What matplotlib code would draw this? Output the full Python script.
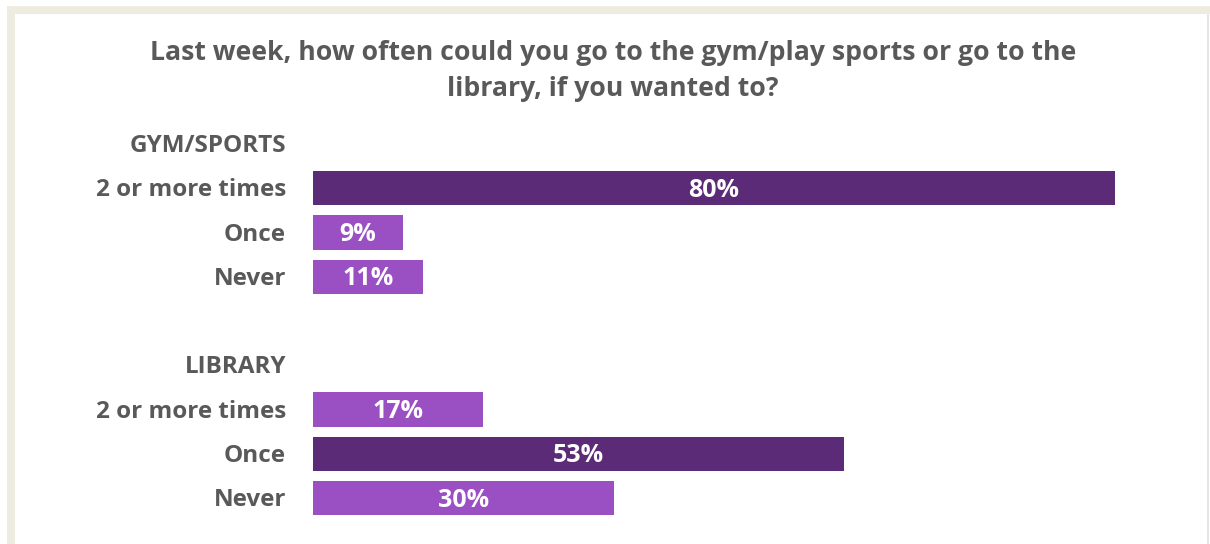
import matplotlib
matplotlib.use('Agg')
import matplotlib.pyplot as plt
from matplotlib.patches import Rectangle

# chart data
title = 'Last week, how often could you go to the gym/play sports or go to the\nlibrary, if you wanted to?'
groups = ['GYM/SPORTS', 'LIBRARY']
categories = ['2 or more times', 'Once', 'Never']
gym_values = [80, 9, 11]
library_values = [17, 53, 30]

DARK = '#5C2B78'
LIGHT = '#9A50C3'
TEXT = '#595959'
FONT = ['Open Sans', 'DejaVu Sans']

W, H = 1210, 544
fig = plt.figure(figsize=(W / 100, H / 100), dpi=100)
fig.patch.set_facecolor('white')

# beige frame (left and top), thin grey line on the right
fig.patches.append(Rectangle((7 / W, 0), 8 / W, 1 - 6 / H, transform=fig.transFigure,
                             facecolor='#EEEBE0', edgecolor='none'))
fig.patches.append(Rectangle((7 / W, 1 - 14 / H), 1 - 7 / W, 8 / H, transform=fig.transFigure,
                             facecolor='#EEEBE0', edgecolor='none'))
fig.patches.append(Rectangle((1207 / W, 0), 1.5 / W, 1 - 14 / H, transform=fig.transFigure,
                             facecolor='#E4E4E4', edgecolor='none'))

fig.text(613 / W, 1 - 71 / H, title, ha='center', va='center', fontsize=19.2,
         fontweight='bold', color=TEXT, family=FONT, linespacing=1.45)

# axes: slot k sits at pixel 144 + 44.3*k
left, right = 313, 1115
top_px, bot_px = 144 - 22.15, 498 + 22.15
ax = fig.add_axes([left / W, 1 - bot_px / H, (right - left) / W, (bot_px - top_px) / H])
ax.set_xlim(0, 80)
ax.set_ylim(8.5, -0.5)
ax.axis('off')

label_x = -27 / 10.025  # label right edge in data units
dy = 0.05  # nudge text down a touch to sit centred like the original

slot = 0
for group, values in zip(groups, [gym_values, library_values]):
    ax.text(label_x, slot + dy, group, ha='right', va='center', fontsize=17.5,
            fontweight='bold', color=TEXT, family=FONT)
    top_val = max(values)
    for i, (cat, v) in enumerate(zip(categories, values)):
        y = slot + 1 + i
        color = DARK if v == top_val else LIGHT
        ax.barh(y, v, height=0.77, color=color, left=0)
        ax.text(label_x, y + dy, cat, ha='right', va='center', fontsize=17.5,
                fontweight='bold', color=TEXT, family=FONT)
        ax.text(v / 2, y + dy, f'{v}%', ha='center', va='center', fontsize=18,
                fontweight='bold', color='white', family=FONT)
    slot += 5

fig.savefig('out.png', dpi=100)
